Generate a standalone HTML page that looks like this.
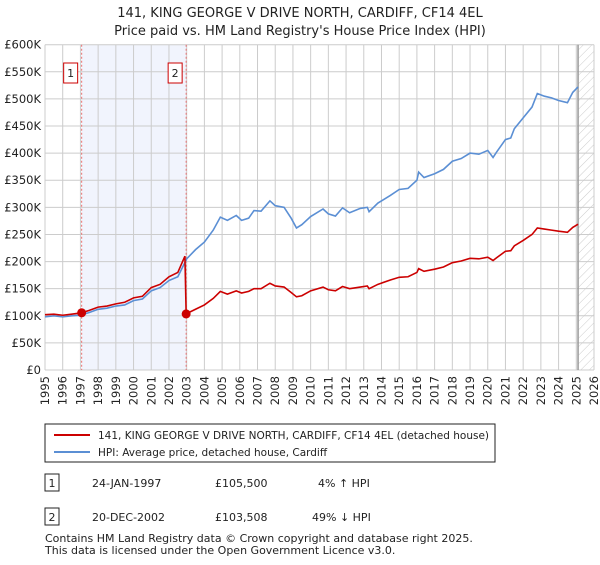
<!DOCTYPE html>
<html><head><meta charset="utf-8"><style>
body{margin:0;background:#fff;font-family:"Liberation Sans","DejaVu Sans",sans-serif;}
svg text{font-family:"DejaVu Sans","Liberation Sans",sans-serif;}
</style></head><body>
<svg id="c" width="600" height="560" xmlns="http://www.w3.org/2000/svg">
<defs><pattern id="hatch" width="6" height="6" patternUnits="userSpaceOnUse" patternTransform="rotate(45)"><line x1="0" y1="0" x2="0" y2="6" stroke="#ccc" stroke-width="1"/></pattern></defs>
<text x="300" y="17" text-anchor="middle" font-size="13" fill="#222">141, KING GEORGE V DRIVE NORTH, CARDIFF, CF14 4EL</text>
<text x="300" y="35" text-anchor="middle" font-size="13" fill="#222">Price paid vs. HM Land Registry's House Price Index (HPI)</text>
<g id="plot"></g>
<g>
<rect x="45" y="424" width="450" height="38" fill="#fff" stroke="#222" stroke-width="1"/>
<line x1="54" y1="435" x2="90" y2="435" stroke="#cc0000" stroke-width="2"/>
<text x="98" y="439" font-size="10.5" fill="#222">141, KING GEORGE V DRIVE NORTH, CARDIFF, CF14 4EL (detached house)</text>
<line x1="54" y1="452" x2="90" y2="452" stroke="#5b8fd4" stroke-width="2"/>
<text x="98" y="456" font-size="10.5" fill="#222">HPI: Average price, detached house, Cardiff</text>
</g>
<g font-size="11" fill="#222">
<rect x="45" y="474" width="14" height="17" fill="#fff" stroke="#222"/><text x="52" y="487" text-anchor="middle">1</text>
<text x="92" y="487">24-JAN-1997</text><text x="215" y="487">£105,500</text><text x="318" y="487">4% ↑ HPI</text>
<rect x="45" y="508" width="14" height="17" fill="#fff" stroke="#222"/><text x="52" y="521" text-anchor="middle">2</text>
<text x="92" y="521">20-DEC-2002</text><text x="215" y="521">£103,508</text><text x="312" y="521">49% ↓ HPI</text>
</g>
<text x="45" y="542" font-size="11" fill="#222">Contains HM Land Registry data © Crown copyright and database right 2025.</text>
<text x="45" y="554" font-size="11" fill="#222">This data is licensed under the Open Government Licence v3.0.</text>
</svg>
<script>
const yTicks=[0,50,100,150,200,250,300,350,400,450,500,550,600];
const yTickLabels=["£0","£50K","£100K","£150K","£200K","£250K","£300K","£350K","£400K","£450K","£500K","£550K","£600K"];
const xYears=[1995,1996,1997,1998,1999,2000,2001,2002,2003,2004,2005,2006,2007,2008,2009,2010,2011,2012,2013,2014,2015,2016,2017,2018,2019,2020,2021,2022,2023,2024,2025,2026];
const hpiT=[1995,1995.5,1996,1996.5,1997,1997.5,1998,1998.5,1999,1999.5,2000,2000.5,2001,2001.5,2002,2002.5,2003,2003.5,2004,2004.5,2004.9,2005.3,2005.8,2006.1,2006.5,2006.8,2007.2,2007.7,2008,2008.5,2008.9,2009.2,2009.5,2010,2010.7,2011,2011.4,2011.8,2012.2,2012.8,2013.2,2013.3,2013.8,2014.5,2015,2015.5,2016,2016.1,2016.4,2017,2017.5,2018,2018.5,2019,2019.5,2020,2020.3,2020.5,2021,2021.3,2021.5,2022,2022.5,2022.8,2023.2,2023.6,2024,2024.5,2024.8,2025.1];
const hpiV=[98,100,98,100,101,106,112,114,118,120,128,131,146,152,165,172,205,222,236,258,282,276,285,276,280,294,293,312,303,300,280,262,268,283,297,288,284,299,290,298,300,292,308,322,333,335,350,365,355,362,370,385,390,400,398,405,392,402,425,428,445,465,485,510,505,502,497,493,512,522];
const paidT=[1995,1995.5,1996,1996.5,1997.07,1997.5,1998,1998.5,1999,1999.5,2000,2000.5,2001,2001.5,2002,2002.5,2002.9,2002.97,2003.5,2004,2004.5,2004.9,2005.3,2005.8,2006.1,2006.5,2006.8,2007.2,2007.7,2008,2008.5,2008.9,2009.2,2009.5,2010,2010.7,2011,2011.4,2011.8,2012.2,2012.8,2013.2,2013.3,2013.8,2014.5,2015,2015.5,2016,2016.1,2016.4,2017,2017.5,2018,2018.5,2019,2019.5,2020,2020.3,2020.5,2021,2021.3,2021.5,2022,2022.5,2022.8,2023.2,2023.6,2024,2024.5,2024.8,2025.1];
const paidV=[102,103,101,103,105.5,110,116,118,122,125,133,136,152,158,172,180,210,103.5,112,120,132,145,140,146,142,145,150,150,160,155,153,143,135,137,146,153,148,146,154,150,153,155,150,158,166,171,172,180,187,182,186,190,198,201,206,205,208,202,207,219,220,229,239,250,262,260,258,256,254,263,269];
const saleT=[1997.07,2002.97];
const saleV=[105.5,103.5];
const saleLabels=["1","2"];
const X0=45,X1=594,Y0=370,Y1=44.7;
const xs=t=>X0+(t-1995)/(2026-1995)*(X1-X0);
const ys=v=>Y0-v/600*(Y0-Y1);
const NS="http://www.w3.org/2000/svg";
const g=document.getElementById('plot');
function mk(tag,a){const e=document.createElementNS(NS,tag);for(const k in a)e.setAttribute(k,a[k]);g.appendChild(e);return e;}
let e;
e=mk('rect',{x:xs(saleT[0]),y:Y1,width:xs(saleT[1])-xs(saleT[0]),height:Y0-Y1,fill:'#f1f4fd'});


e=mk('rect',{x:xs(2025.1),y:Y1,width:X1-xs(2025.1),height:Y0-Y1,fill:'url(#hatch)'});


yTicks.forEach((v,i)=>{
 e=mk('line',{x1:X0,x2:X1,y1:ys(v),y2:ys(v),stroke:'#ccc','stroke-width':1});
 
 
 e=mk('text',{x:X0-4,y:ys(v)+4,'text-anchor':'end','font-size':11.5,fill:'#222'});e.textContent=yTickLabels[i];
 
 
});
xYears.forEach(y=>{
 e=mk('line',{x1:xs(y),x2:xs(y),y1:Y1,y2:Y0,stroke:'#ccc','stroke-width':1});
 
 
 e=mk('text',{x:0,y:0,'text-anchor':'end','font-size':11.5,fill:'#222',transform:`translate(${xs(y)+4},376) rotate(-90)`});e.textContent=y;
 
 
});
e=mk('line',{x1:xs(2025.1),x2:xs(2025.1),y1:Y1,y2:Y0,stroke:'#999','stroke-width':1.5});


saleT.forEach((t,i)=>{
 e=mk('line',{x1:xs(t),x2:xs(t),y1:Y1,y2:Y0,stroke:'#e87070','stroke-width':1,'stroke-dasharray':'2,2'});
 
 
 e=mk('rect',{x:xs(t)-18,y:63,width:14,height:20,fill:'#fff',stroke:'#cc0000'});
 
 
 e=mk('text',{x:xs(t)-11,y:77,'text-anchor':'middle','font-size':11,fill:'#222'});e.textContent=saleLabels[i];
 
 
});
e=mk('polyline',{points:hpiT.map((t,i)=>xs(t)+','+ys(hpiV[i])).join(' '),fill:'none',stroke:'#5b8fd4','stroke-width':1.6});


e=mk('polyline',{points:paidT.map((t,i)=>xs(t)+','+ys(paidV[i])).join(' '),fill:'none',stroke:'#cc0000','stroke-width':1.6});


saleT.forEach((t,i)=>{
 e=mk('circle',{cx:xs(t),cy:ys(saleV[i]),r:4.5,fill:'#cc0000'});
 
 
});
</script>
</body></html>
